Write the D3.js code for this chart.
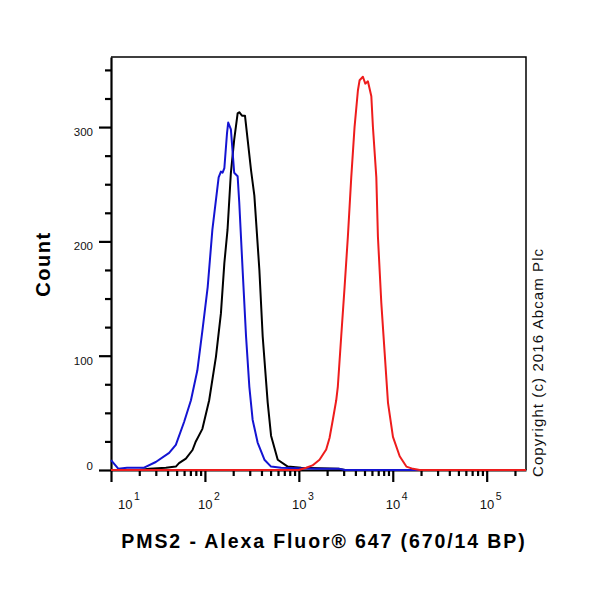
<!DOCTYPE html>
<html>
<head>
<meta charset="utf-8">
<script src="https://cdn.jsdelivr.net/npm/d3@7"></script>
<style>
  body { margin: 0; background: #fff; }
  svg { display: block; }
  text { font-family: "Liberation Sans", Arial, sans-serif; }
</style>
</head>
<body>
<svg id="chart" width="600" height="600"></svg>
<script>
// ---- data (fluorescence intensity, count) ----
const blueX  = [10, 12, 14.8, 22.5, 30, 41.6, 49, 60, 71, 83, 94, 107, 120, 140, 148, 154, 161, 172, 177, 189, 205, 223, 232, 252, 274, 297, 322, 364, 430, 506, 647, 1500, 2700, 3100, 262144];
const blueY  = [8.7, 1, 2, 2, 7, 15, 22, 42, 61, 87, 122, 160, 210, 256, 261, 260, 264, 295, 304, 298, 260, 257, 234, 175, 117, 73, 44, 24, 9, 3, 2, 1, 1, 0, 0];

const blackX = [10, 19.9, 25.5, 38.4, 49, 53, 62.7, 73.8, 80, 94, 111, 131, 148, 161, 174, 189, 205, 223, 232, 248, 267, 285, 310, 336, 380, 412, 466, 506, 596, 762, 1059, 2700, 3100, 262144];
const blackY = [0, 0, 1, 2, 3, 6, 10, 17.5, 25, 36, 61, 99, 137, 181, 210, 260, 289, 312, 313, 310, 310, 289, 262, 240, 175, 117, 59, 30, 9, 3, 2, 1, 0, 0];

const redX   = [10, 1000, 1197, 1397, 1660, 1955, 2122, 2301, 2500, 2601, 2826, 3069, 3326, 3614, 3918, 4254, 4436, 4808, 5100, 5436, 5912, 6149, 6682, 6950, 7554, 8203, 8890, 10046, 11850, 13960, 16440, 19360, 262144];
const redY   = [0, 0, 2, 4, 9, 18, 28, 44, 61, 73, 117, 160, 204, 256, 300, 332, 341, 344, 338, 340, 327, 300, 256, 204, 146, 102, 59, 29, 12, 3, 1, 0, 0];

const yTickValues = [0, 100, 200, 300];
const yMinorValues = [25, 50, 75, 125, 150, 175, 225, 250, 275, 325, 350];
const xMajorExp = [1, 2, 3, 4, 5];
const xTitle = "PMS2 - Alexa Fluor\u00AE 647 (670/14 BP)";
const yTitle = "Count";
const copyright = "Copyright (c) 2016 Abcam Plc";

// ---- layout ----
const L = 111, R = 526, T = 57, B = 470;
const svg = d3.select("#chart");

const x = d3.scaleLog().domain([10, 262144]).range([L, R]);
const y = d3.scaleLinear().domain([0, 361.3]).range([B, T]);

// minor x ticks
const xMinor = [];
for (let e = 1; e <= 5; e++) for (let m = 2; m <= 9; m++) {
  const v = m * Math.pow(10, e);
  if (v <= 262144) xMinor.push(v);
}

// frame (top & right)
svg.append("path")
  .attr("d", `M${L},${T}H${R}V${B}`)
  .attr("fill", "none").attr("stroke", "#000").attr("stroke-width", 1.5);

// y axis
const gy = svg.append("g").attr("transform", `translate(${L},0)`);
gy.call(d3.axisLeft(y).tickValues(yTickValues).tickSize(12).tickSizeOuter(0).tickFormat(""));
gy.append("g").call(d3.axisLeft(y).tickValues(yMinorValues).tickSize(6).tickSizeOuter(0).tickFormat(""))
  .select(".domain").remove();
gy.selectAll("path, line").attr("stroke", "#000").attr("stroke-width", 2.2);
gy.selectAll(".ylab").data(yTickValues).enter().append("text")
  .attr("class", "ylab")
  .attr("x", -18)
  .attr("y", d => y(d) + (d === 0 ? -4 : 5))
  .attr("dy", "0.35em")
  .attr("text-anchor", "end")
  .attr("font-size", 11.5)
  .attr("fill", "#111")
  .text(d => d);

// x axis
const gx = svg.append("g").attr("transform", `translate(0,${B})`);
gx.call(d3.axisBottom(x).tickValues(xMajorExp.map(e => Math.pow(10, e))).tickSize(12).tickSizeOuter(0).tickFormat(""));
gx.append("g").call(d3.axisBottom(x).tickValues(xMinor).tickSize(6).tickSizeOuter(0).tickFormat(""))
  .select(".domain").remove();
gx.selectAll("path, line").attr("stroke", "#000").attr("stroke-width", 2.2);
const xl = gx.selectAll(".xlab").data(xMajorExp).enter().append("text")
  .attr("class", "xlab")
  .attr("x", d => x(Math.pow(10, d)) + (d === 1 ? 18 : 4))
  .attr("y", 39)
  .attr("text-anchor", "middle")
  .attr("font-size", 13)
  .attr("fill", "#111");
xl.append("tspan").text("10");
xl.append("tspan").attr("dx", 1.5).attr("dy", -9).attr("font-size", 10.5).text(d => d);

// curves
const line = d3.line().x(d => x(d[0])).y(d => y(d[1]));
const series = [
  { xs: blackX, ys: blackY, color: "#000000" },
  { xs: blueX,  ys: blueY,  color: "#1414d2" },
  { xs: redX,   ys: redY,   color: "#ee1c1c" }
];
series.forEach(s => {
  svg.append("path")
    .datum(s.xs.map((v, i) => [v, s.ys[i]]))
    .attr("d", line)
    .attr("fill", "none")
    .attr("stroke", s.color)
    .attr("stroke-width", 2)
    .attr("stroke-linejoin", "round");
});

// titles
svg.append("text")
  .attr("x", 324).attr("y", 548)
  .attr("text-anchor", "middle")
  .attr("font-size", 19.5).attr("font-weight", "bold")
  .attr("letter-spacing", 1.9)
  .text(xTitle);

svg.append("text")
  .attr("transform", `translate(50,264) rotate(-90)`)
  .attr("text-anchor", "middle")
  .attr("font-size", 20).attr("font-weight", "bold")
  .attr("letter-spacing", 1.5)
  .text(yTitle);

svg.append("text")
  .attr("transform", `translate(543,477) rotate(-90)`)
  .attr("text-anchor", "start")
  .attr("font-size", 15)
  .attr("letter-spacing", 1.1)
  .attr("fill", "#111")
  .text(copyright);
</script>
</body>
</html>
